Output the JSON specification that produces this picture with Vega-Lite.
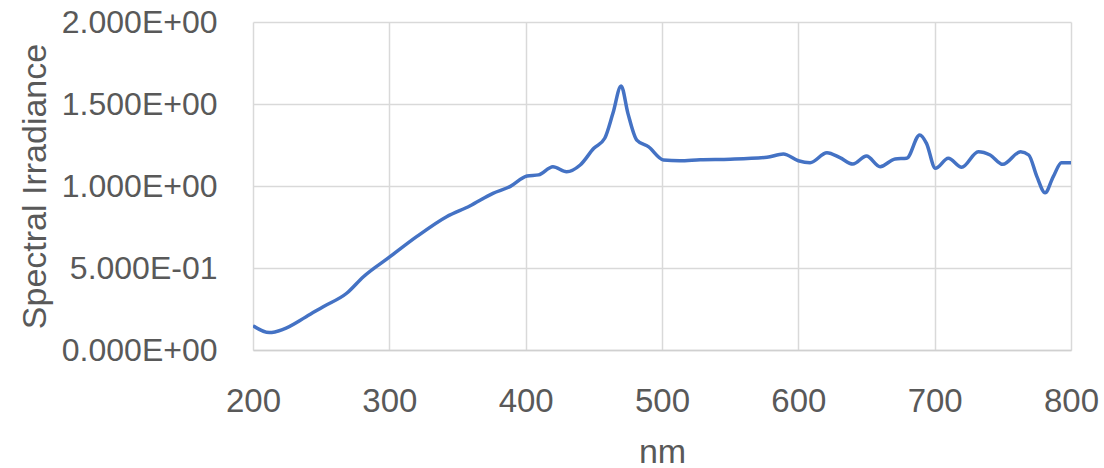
{
  "$schema": "https://vega.github.io/schema/vega-lite/v6.json",
  "autosize": {"type": "none"},
  "width": 818,
  "height": 328,
  "padding": {"left": 253, "top": 22, "right": 33, "bottom": 118},
  "background": "white",
  "config": {"view": {"stroke": null}},
  "data": {"values": [
    {"nm": 200, "v": 0.148},
    {"nm": 212, "v": 0.106},
    {"nm": 222, "v": 0.126},
    {"nm": 239, "v": 0.203},
    {"nm": 251.5, "v": 0.264},
    {"nm": 268.7, "v": 0.346},
    {"nm": 281, "v": 0.447},
    {"nm": 300.5, "v": 0.569},
    {"nm": 320, "v": 0.691},
    {"nm": 342, "v": 0.813},
    {"nm": 359, "v": 0.878},
    {"nm": 376, "v": 0.955},
    {"nm": 388.5, "v": 0.996},
    {"nm": 401, "v": 1.061},
    {"nm": 409.5, "v": 1.068},
    {"nm": 420, "v": 1.118},
    {"nm": 430, "v": 1.087},
    {"nm": 440, "v": 1.128},
    {"nm": 450, "v": 1.23},
    {"nm": 458, "v": 1.291},
    {"nm": 464, "v": 1.443},
    {"nm": 470, "v": 1.61},
    {"nm": 475, "v": 1.443},
    {"nm": 481.5, "v": 1.28},
    {"nm": 490, "v": 1.24},
    {"nm": 501, "v": 1.159},
    {"nm": 513, "v": 1.154},
    {"nm": 528, "v": 1.16},
    {"nm": 550, "v": 1.163},
    {"nm": 577, "v": 1.175},
    {"nm": 589, "v": 1.195},
    {"nm": 600, "v": 1.154},
    {"nm": 608.6, "v": 1.142},
    {"nm": 621, "v": 1.203},
    {"nm": 630.5, "v": 1.173},
    {"nm": 640, "v": 1.134},
    {"nm": 650, "v": 1.183},
    {"nm": 660, "v": 1.118},
    {"nm": 671, "v": 1.165},
    {"nm": 679.5, "v": 1.169},
    {"nm": 689, "v": 1.311},
    {"nm": 694, "v": 1.26},
    {"nm": 700.5, "v": 1.108},
    {"nm": 710, "v": 1.169},
    {"nm": 719.8, "v": 1.114},
    {"nm": 732, "v": 1.209},
    {"nm": 740.7, "v": 1.189},
    {"nm": 750, "v": 1.132},
    {"nm": 763, "v": 1.209},
    {"nm": 769, "v": 1.189},
    {"nm": 775, "v": 1.057},
    {"nm": 781, "v": 0.959},
    {"nm": 787, "v": 1.057},
    {"nm": 793, "v": 1.142},
    {"nm": 800, "v": 1.142}
  ]},
  "mark": {"type": "line", "color": "#4472c4", "strokeWidth": 3.5, "interpolate": "monotone", "clip": true},
  "encoding": {
    "x": {
      "field": "nm", "type": "quantitative",
      "scale": {"domain": [200, 800], "nice": false, "zero": false},
      "axis": {
        "title": "nm", "values": [200, 300, 400, 500, 600, 700, 800],
        "grid": true, "gridColor": "#d9d9d9", "gridWidth": 1.5,
        "domain": true, "domainColor": "#d0d0d0", "domainWidth": 1.5,
        "ticks": false, "labelPadding": 35,
        "labelFont": "Liberation Sans", "labelFontSize": 33, "labelColor": "#595959",
        "titleFont": "Liberation Sans", "titleFontSize": 34, "titleColor": "#595959", "titleFontWeight": "normal",
        "titlePadding": 17, "labelFlush": false
      }
    },
    "y": {
      "field": "v", "type": "quantitative",
      "scale": {"domain": [0, 2], "nice": false},
      "axis": {
        "title": "Spectral Irradiance", "values": [0, 0.5, 1, 1.5, 2],
        "labelExpr": "datum.value == 0 ? '0.000E+00' : (datum.value < 1 ? format(datum.value * 10, '.3f') + 'E-01' : format(datum.value, '.3f') + 'E+00')",
        "grid": true, "gridColor": "#d9d9d9", "gridWidth": 1.5,
        "domain": false, "ticks": false, "labelPadding": 36,
        "labelFont": "Liberation Sans", "labelFontSize": 32, "labelColor": "#595959",
        "titleFont": "Liberation Sans", "titleFontSize": 34, "titleColor": "#595959", "titleFontWeight": "normal",
        "titlePadding": 9
      }
    }
  }
}
